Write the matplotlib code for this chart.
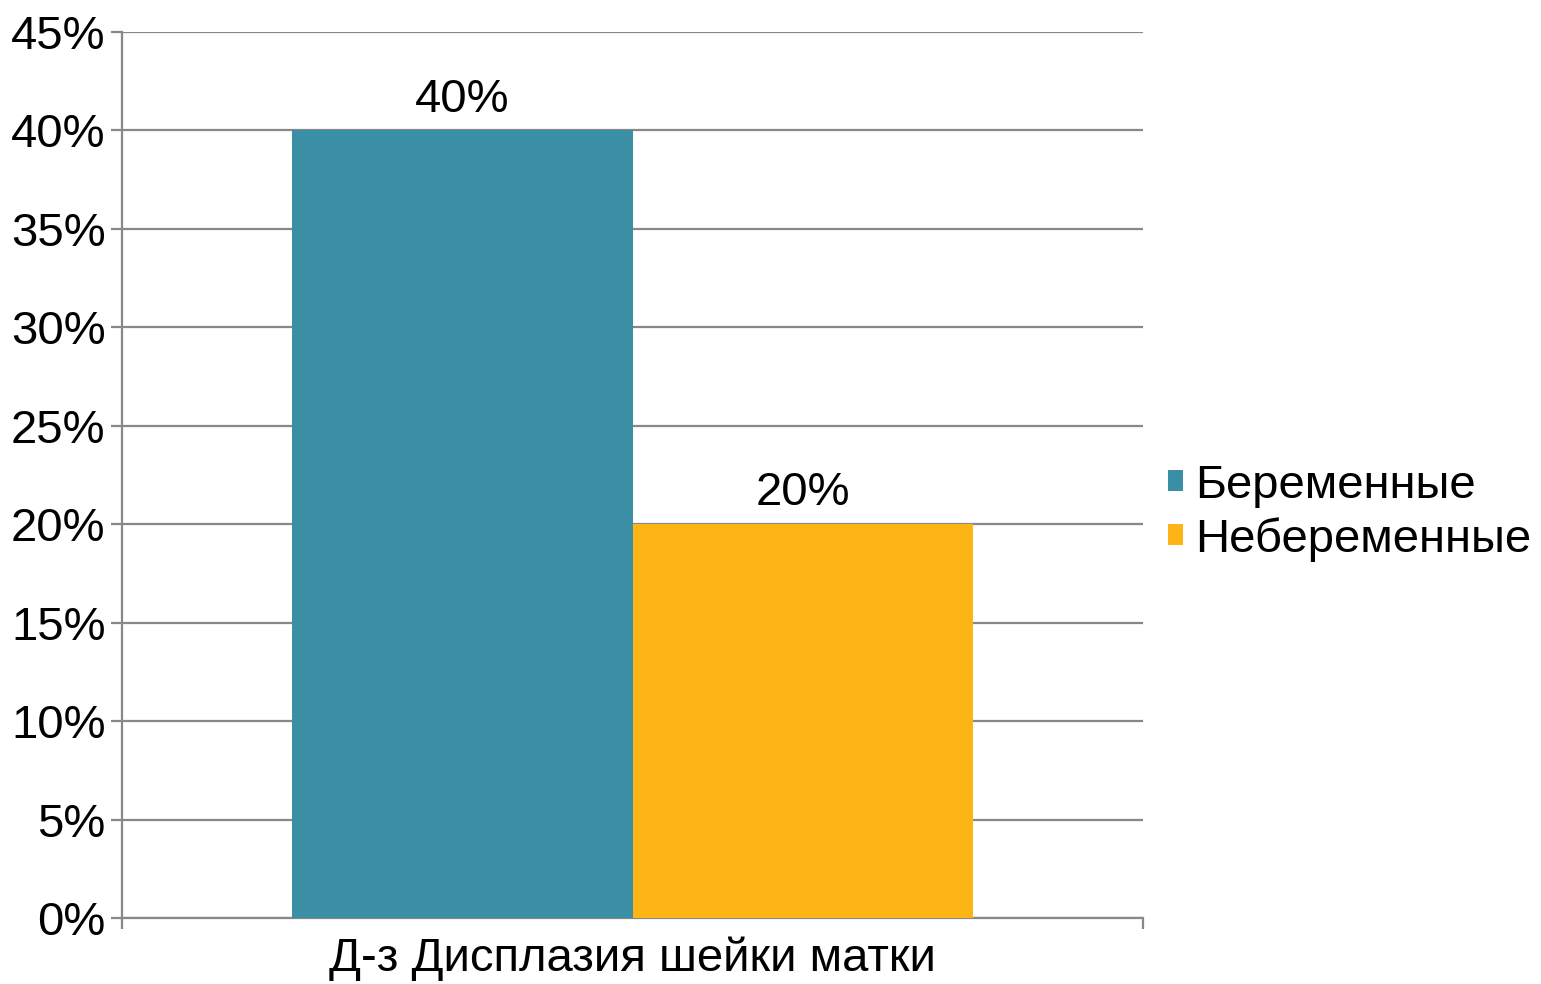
import matplotlib.pyplot as plt
from matplotlib.ticker import PercentFormatter

plt.rcParams['font.family'] = ['Liberation Sans', 'DejaVu Sans']

category = 'Д-з Дисплазия шейки матки'
series = ['Беременные', 'Небеременные']
values = [40, 20]
colors = ['#3A8FA5', '#FDB515']

fig = plt.figure(figsize=(15.41, 9.84), dpi=100)
ax = fig.add_axes([0.0792, 0.0671, 0.6625, 0.9004])

width = 1 / 3
offsets = [-1 / 6, 1 / 6]
for name, val, col, off in zip(series, values, colors, offsets):
    ax.bar(off, val, width=width, color=col, label=name, zorder=3)
    ax.text(off, val + 0.45, f'{val}%', ha='center', va='bottom', fontsize=34, zorder=4)

ax.set_xlim(-0.5, 0.5)
ax.set_ylim(0, 45)
ax.set_yticks(range(0, 46, 5))
ax.yaxis.set_major_formatter(PercentFormatter(decimals=0))
ax.set_xticks([0])
ax.set_xticklabels([category])
ax.set_xticks([-0.5, 0.5], minor=True)

ax.grid(axis='y', color='#888888', linewidth=1.6, zorder=0)
for s in ['top', 'right']:
    ax.spines[s].set_visible(False)
for s in ['left', 'bottom']:
    ax.spines[s].set_color('#888888')
    ax.spines[s].set_linewidth(1.6)

ax.tick_params(axis='y', length=8, width=1.6, color='#888888', labelsize=34, pad=4)
ax.tick_params(axis='x', which='major', length=0, labelsize=34, pad=13)
ax.tick_params(axis='x', which='minor', length=8, width=1.6, color='#888888')

fig.legend(loc='center left', bbox_to_anchor=(0.7456, 0.479), frameon=False,
           fontsize=34, handlelength=0.32, handleheight=0.32, handletextpad=0.25,
           labelspacing=0.2, borderaxespad=0)

fig.savefig('out.png', dpi=100)
